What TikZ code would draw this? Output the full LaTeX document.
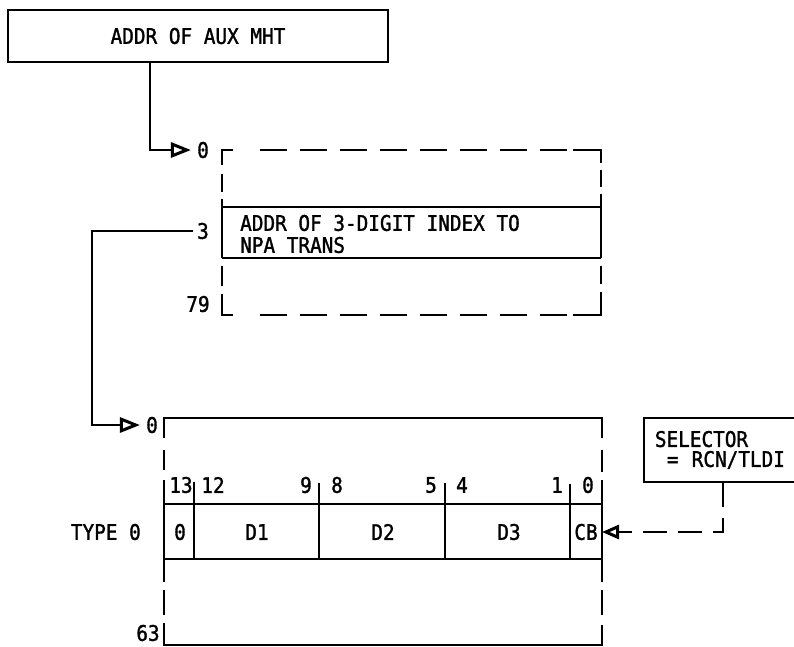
\documentclass[tikz,border=0pt]{standalone}
\usepackage{fontspec}
\newfontfamily\lerfont[FakeStretch=0.9,FakeBold=1.4]{DejaVu Sans Mono}
\usetikzlibrary{arrows.meta}
\begin{document}
\begin{tikzpicture}[x=1pt,y=-1pt,
  every node/.style={font=\lerfont\fontsize{21.5}{22}\selectfont, inner sep=0pt},
  ln/.style={line width=1.8pt},
  thinln/.style={line width=1.1pt},
  dsh/.style={line width=1.8pt, dash pattern=on 27pt off 13pt},
  arr/.style={line width=1.8pt, -{Triangle[open,length=20pt,width=15pt,line width=3pt]}},
  dasharr/.style={line width=1.8pt, dash pattern=on 24pt off 11pt, -{Triangle[open,length=17pt,width=14pt,line width=3pt]}},
  boxnode/.style={draw, line width=1.8pt},
]
\clip (0,0) rectangle (794,646);

% top box
\node[boxnode, minimum width=380pt, minimum height=52pt] (aux) at (198,36) {ADDR OF AUX MHT};

% upper structure labels
\node (u0) at (203,150) {0};
\node (u3) at (203,231) {3};
\node (u79) at (198,304) {79};

% upper structure (dashed outline with solid band)
\draw[ln] (233,150) -- (222,150) -- (222,165);
\draw[ln] (222,174) -- (222,192);
\draw[ln] (222,199) -- (222,258);
\draw[ln] (222,266) -- (222,286);
\draw[ln] (222,294) -- (222,315) -- (233,315);
\draw[ln] (573,150) -- (601,150) -- (601,163);
\draw[ln] (601,170) -- (601,187);
\draw[ln] (601,194) -- (601,258);
\draw[ln] (601,266) -- (601,284);
\draw[ln] (601,292) -- (601,315) -- (573,315);
\draw[dsh] (260,150) -- (567,150);
\draw[dsh] (260,315) -- (567,315);
\draw[ln] (222,207) -- (601,207);
\draw[ln] (222,258) -- (601,258);
\node[anchor=west, align=left] (idx) at (240,234) {ADDR OF 3-DIGIT INDEX TO\\NPA TRANS};

% connector top box -> upper structure
\coordinate (c1) at (150,0);
\draw[arr, shorten >=6pt] (aux.south -| c1) |- (u0.west);

% lower structure labels
\node (l0) at (152,425) {0};
\node (l63) at (148,633) {63};
\node[anchor=east] (type0) at (141,532) {TYPE 0};

% connector 3 -> lower structure
\coordinate (c2) at (92,0);
\draw[arr, shorten <=4pt, shorten >=6pt] (u3.west) -| (c2 |- l0.west) -- (l0.west);

% lower structure outline
\draw[ln] (164,438) -- (164,418) -- (602,418) -- (602,438);
\draw[ln] (164,450) -- (164,470);
\draw[ln] (602,450) -- (602,472);
\draw[ln] (164,480) -- (164,582);
\draw[ln] (602,480) -- (602,582);
\draw[ln] (164,590) -- (164,615);
\draw[ln] (602,590) -- (602,615);
\draw[ln] (164,623) -- (164,645) -- (602,645) -- (602,625);
\draw[ln] (164,504) -- (602,504);
\draw[ln] (164,559) -- (602,559);
\draw[thinln] (194,482) -- (194,559);
\draw[ln] (319,483) -- (319,559);
\draw[ln] (445,483) -- (445,559);
\draw[ln] (570,484) -- (570,559);

% bit numbers
\node (b13) at (181,485) {13};
\node (b12) at (213,485) {12};
\node (b9) at (306,485) {9};
\node (b8) at (337,485) {8};
\node (b5) at (431,485) {5};
\node (b4) at (462,485) {4};
\node (b1) at (557,485) {1};
\node (b0) at (588,485) {0};

% fields
\node (f0) at (180,532) {0};
\node (fd1) at (257,532) {D1};
\node (fd2) at (383,532) {D2};
\node (fd3) at (509,532) {D3};
\node (fcb) at (586,532) {CB};
\coordinate (cbe) at (602,532);

% selector box
\node[boxnode, anchor=north west, minimum height=64pt, align=left, inner xsep=11pt, inner ysep=0pt, text width=190pt, font=\lerfont\fontsize{21.5}{20}\selectfont] (sel) at (643,417) {SELECTOR\\\hspace*{12pt}=\hspace{6pt} RCN/TLDI};
\coordinate (c3) at (723,0);
\draw[dasharr] (sel.south -| c3) |- (cbe);
\end{tikzpicture}
\end{document}
